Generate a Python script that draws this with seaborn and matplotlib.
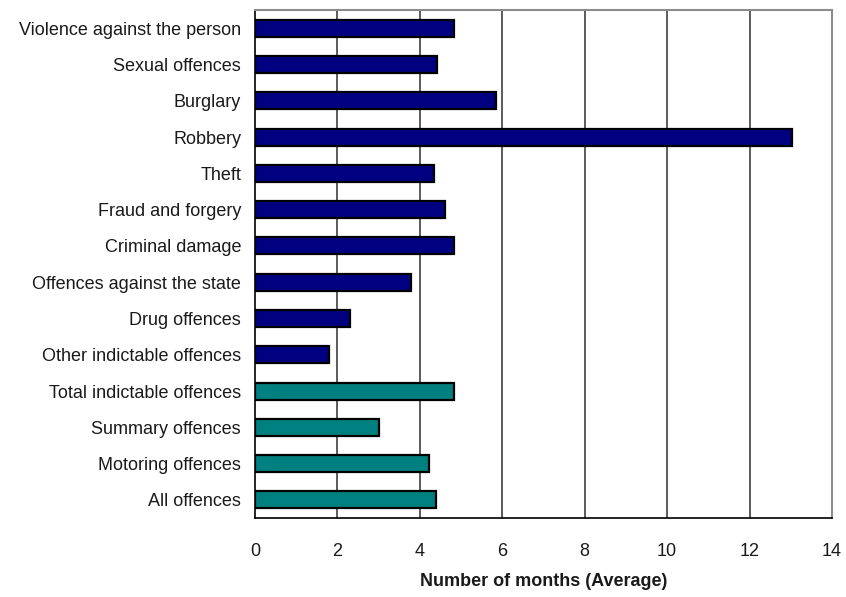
import matplotlib
matplotlib.use("Agg")
import matplotlib.pyplot as plt
import seaborn as sns
import pandas as pd
import numpy as np
from matplotlib.ticker import FixedLocator

categories = [
    "Violence against the person", "Sexual offences", "Burglary", "Robbery",
    "Theft", "Fraud and forgery", "Criminal damage", "Offences against the state",
    "Drug offences", "Other indictable offences", "Total indictable offences",
    "Summary offences", "Motoring offences", "All offences",
]
months = [4.84, 4.41, 5.84, 13.02, 4.34, 4.62, 4.84, 3.79, 2.31, 1.79, 4.84, 3.00, 4.22, 4.40]
groups = ["detail"] * 10 + ["total"] * 4
group_colors = {"detail": "#000080", "total": "#008080"}
xticks = [0, 2, 4, 6, 8, 10, 12, 14]

df = pd.DataFrame({"category": categories, "months": months, "group": groups})

sns.set_style("white")
plt.rcParams["font.family"] = ["Liberation Sans", "DejaVu Sans"]

fig = plt.figure(figsize=(8.46, 5.97), dpi=100)
ax = fig.add_axes([0.3014, 0.1323, 0.9835 - 0.3014, 0.983 - 0.1323])

sns.barplot(data=df, x="months", y="category", hue="group", palette=group_colors,
            dodge=False, legend=False, width=0.47, saturation=1, edgecolor="black",
            linewidth=1.6, ax=ax, zorder=3)

ax.set_xlim(0, 14)
ax.set_ylim(len(categories) - 0.5, -0.5)
ax.set_xticks(xticks)
ax.set_xticklabels([str(t) for t in xticks], fontsize=13, color="#1a1a1a")
ax.tick_params(axis="x", direction="out", length=5, width=1, color="black", pad=13)
ax.tick_params(axis="y", which="major", length=0, pad=10, labelsize=13, labelcolor="#1a1a1a")
ax.yaxis.set_minor_locator(FixedLocator(np.arange(-0.5, len(categories), 1.0)))
ax.tick_params(axis="y", which="minor", direction="out", length=5, width=1, color="black")

for t in xticks[1:-1]:
    ax.axvline(t, color="#404040", linewidth=1.2, zorder=1)

ax.set_ylabel("")
ax.set_xlabel("Number of months (Average)", fontsize=13, fontweight="bold", labelpad=9,
              color="#1a1a1a")

for side in ["top", "right"]:
    ax.spines[side].set_visible(True)
    ax.spines[side].set_color("#8c8c8c")
    ax.spines[side].set_linewidth(1.5)
for side in ["left", "bottom"]:
    ax.spines[side].set_color("black")
    ax.spines[side].set_linewidth(1.2)

fig.savefig("out.png", dpi=100)
